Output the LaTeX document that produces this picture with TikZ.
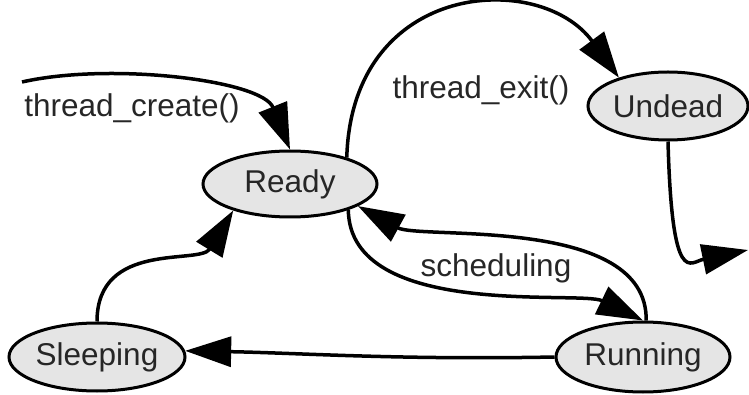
\documentclass[tikz,border=0pt]{standalone}
\usepackage{fontspec}
\setmainfont{Liberation Sans}
\usetikzlibrary{shapes.geometric,arrows.meta}

\tikzset{
  state/.style={ellipse, draw=black, line width=3pt, fill=gray!20,
    inner sep=0pt, text=black!85, font=\fontsize{31.5}{36}\selectfont},
  trans/.style={line width=3.5pt, draw=black,
    -{Triangle[length=46pt,width=30pt]}},
  lbl/.style={text=black!85, font=\fontsize{31.5}{36}\selectfont, inner sep=0pt}
}

\begin{document}
\begin{tikzpicture}[x=1pt,y=-1pt]
  \useasboundingbox (0,0) rectangle (749,395);

  % states
  \node[state, minimum width=174pt, minimum height=66pt] (ready)    at (290,184) {Ready};
  \node[state, minimum width=160pt, minimum height=68pt] (undead)   at (668,106) {Undead};
  \node[state, minimum width=176pt, minimum height=68pt] (sleeping) at (97,357)  {Sleeping};
  \node[state, minimum width=174pt, minimum height=70pt] (running)  at (643,357) {Running};

  % free ends of the entry and exit transitions
  \coordinate (entry) at (22,82);
  \coordinate (exit)  at (748,250);

  % transitions
  \draw[trans] (entry) .. controls (110,62) and (262,80) .. (ready.north);
  \draw[trans] (ready.25) .. controls (352,-20) and (540,-30) .. (undead.150);
  \draw[trans] (undead.south) .. controls (672,290) and (690,262) .. (exit);
  \draw[trans] (ready.-24) .. controls (350,320) and (580,290) .. (running.north);
  \draw[trans] (running.85) .. controls (648,215) and (420,240) .. (ready.-18);
  \draw[trans] (sleeping.north) .. controls (97,240) and (200,265) .. (ready.205);
  \draw[trans] (running.west) .. controls (400,360) and (300,353) .. (sleeping.4);

  % transition labels
  \node[lbl] (lcreate)   at (132,108) {thread\_create()};
  \node[lbl] (lexit)     at (481,90)  {thread\_exit()};
  \node[lbl] (lschedule) at (496,268) {scheduling};
\end{tikzpicture}
\end{document}
